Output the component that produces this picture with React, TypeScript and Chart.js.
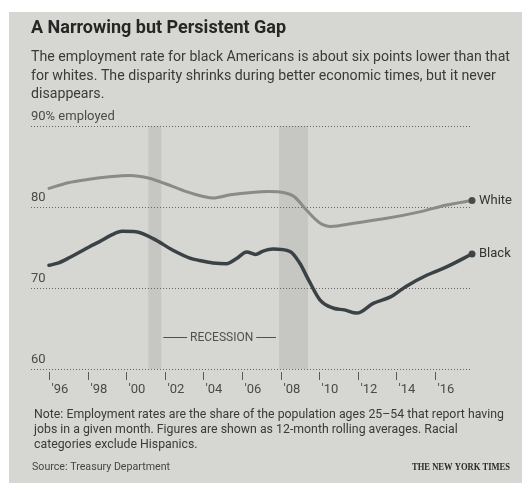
import React, { useEffect, useRef } from "react";
import { Chart, registerables } from "chart.js";

Chart.register(...registerables);

const TITLE = "A Narrowing but Persistent Gap";
const SUBTITLE_LINES = [
  "The employment rate for black Americans is about six points lower than that",
  "for whites. The disparity shrinks during better economic times, but it never",
  "disappears.",
];
const NOTE_LINES = [
  "Note: Employment rates are the share of the population ages 25–54 that report having",
  "jobs in a given month. Figures are shown as 12-month rolling averages. Racial",
  "categories exclude Hispanics.",
];
const SOURCE = "Source: Treasury Department";
const CREDIT = "THE NEW YORK TIMES";
const RECESSION_LABEL = "RECESSION";

const Y_TICKS = [60, 70, 80, 90];
const Y_TICK_LABELS = ["60", "70", "80", "90% employed"];
const X_TICKS = [1996, 1998, 2000, 2002, 2004, 2006, 2008, 2010, 2012, 2014, 2016];
const X_TICK_LABELS = ["'96", "'98", "'00", "'02", "'04", "'06", "'08", "'10", "'12", "'14", "'16"];

const RECESSION_START = [2001.15, 2007.92];
const RECESSION_END = [2001.82, 2009.42];

const WHITE_YEARS = [
  1996.0, 1997.0, 1998.0, 1999.0, 2000.2, 2001.2, 2002.0, 2003.0, 2004.0, 2004.5,
  2005.4, 2006.5, 2007.4, 2008.2, 2008.7, 2009.35, 2010.0, 2010.6, 2011.8, 2013.5,
  2015.2, 2016.6, 2017.92,
];
const WHITE_VALUES = [
  82.3, 83.0, 83.4, 83.7, 83.9, 83.55, 82.9, 82.0, 81.3, 81.1,
  81.5, 81.8, 81.9, 81.75, 81.3, 79.6, 78.1, 77.6, 78.0, 78.6,
  79.4, 80.25, 80.8,
];

const BLACK_YEARS = [
  1996.0, 1996.5, 1997.1, 1998.1, 1998.6, 1999.2, 1999.8, 2000.5, 2001.4, 2002.4,
  2003.3, 2003.8, 2004.5, 2005.2, 2005.7, 2006.25, 2006.7, 2007.1, 2007.6, 2008.5,
  2009.0, 2009.45, 2010.05, 2010.75, 2011.3, 2011.95, 2012.8, 2013.7, 2014.5, 2015.6,
  2016.6, 2017.92,
];
const BLACK_VALUES = [
  72.8, 73.1, 73.8, 75.1, 75.7, 76.5, 77.0, 76.95, 76.1, 74.7,
  73.7, 73.4, 73.1, 73.0, 73.6, 74.45, 74.15, 74.55, 74.8, 74.5,
  73.05, 71.0, 68.5, 67.5, 67.3, 66.9, 68.1, 68.9, 70.2, 71.6,
  72.6, 74.2,
];

const SERIES_NAMES = ["White", "Black"];

const W = 522;
const H = 485;
const PAPER = "#d6d6d2";
const BAND = "#c6c6c2";
const SANS = "Roboto, 'Liberation Sans', sans-serif";

function drawBlock(ctx: CanvasRenderingContext2D, lines: string[], x: number, baselines: number[], firstWidth: number) {
  const natural = ctx.measureText(lines[0]).width;
  const k = Math.min(1, firstWidth / natural);
  lines.forEach((l, i) => {
    const w = ctx.measureText(l).width * k;
    ctx.fillText(l, x, baselines[i], w);
  });
}

const decor = {
  id: "decor",
  beforeDraw(chart: any) {
    const { ctx, chartArea } = chart;
    const xs = chart.scales.x;
    const ys = chart.scales.y;
    ctx.save();
    ctx.fillStyle = "#ffffff";
    ctx.fillRect(0, 0, W, H);
    ctx.fillStyle = PAPER;
    ctx.fillRect(9, 12, W - 9, H - 14);

    // recession bands
    ctx.fillStyle = BAND;
    RECESSION_START.forEach((s, i) => {
      const x0 = xs.getPixelForValue(s);
      const x1 = xs.getPixelForValue(RECESSION_END[i]);
      ctx.fillRect(x0, chartArea.top, x1 - x0, chartArea.bottom - chartArea.top);
    });

    // grid lines
    ctx.strokeStyle = "#666664";
    ctx.lineWidth = 1;
    ctx.setLineDash([1, 2]);
    Y_TICKS.forEach((v) => {
      const py = Math.round(ys.getPixelForValue(v)) + 0.5;
      ctx.beginPath();
      ctx.moveTo(chartArea.left, py);
      ctx.lineTo(chartArea.right, py);
      ctx.stroke();
    });
    ctx.setLineDash([]);

    // y labels
    ctx.fillStyle = "#4a4a48";
    ctx.font = `13px ${SANS}`;
    ctx.textAlign = "left";
    ctx.textBaseline = "alphabetic";
    Y_TICKS.forEach((v, i) => {
      const py = ys.getPixelForValue(v);
      ctx.fillText(Y_TICK_LABELS[i], chartArea.left, py - 6);
    });

    // x ticks
    ctx.strokeStyle = "#5a5a58";
    X_TICKS.forEach((t, i) => {
      const px = Math.round(xs.getPixelForValue(t)) + 0.5;
      ctx.beginPath();
      ctx.moveTo(px, chartArea.bottom + 3);
      ctx.lineTo(px, chartArea.bottom + 11);
      ctx.stroke();
      ctx.fillText(X_TICK_LABELS[i], px + 2, chartArea.bottom + 24);
    });

    // recession label
    const ry = Math.round(ys.getPixelForValue(64)) + 0.5;
    const left = xs.getPixelForValue(RECESSION_END[0]) + 2;
    const right = xs.getPixelForValue(RECESSION_START[1]) - 3;
    ctx.font = `12px ${SANS}`;
    const tw = ctx.measureText(RECESSION_LABEL).width;
    const cx = (left + right) / 2 + 2;
    ctx.textAlign = "center";
    ctx.textBaseline = "middle";
    ctx.fillStyle = "#505050";
    ctx.fillText(RECESSION_LABEL, cx, ry);
    ctx.strokeStyle = "#505050";
    ctx.beginPath();
    ctx.moveTo(left, ry);
    ctx.lineTo(cx - tw / 2 - 3, ry);
    ctx.moveTo(cx + tw / 2 + 3, ry);
    ctx.lineTo(right, ry);
    ctx.stroke();

    // titles
    ctx.textAlign = "left";
    ctx.textBaseline = "alphabetic";
    ctx.fillStyle = "#262626";
    ctx.font = `bold 18px ${SANS}`;
    drawBlock(ctx, [TITLE], 31, [33], 304);
    ctx.fillStyle = "#3a3a3a";
    ctx.font = `15px ${SANS}`;
    drawBlock(ctx, SUBTITLE_LINES, 31, [61, 80, 98], 479);
    ctx.font = `13px ${SANS}`;
    drawBlock(ctx, NOTE_LINES, 34, [418, 433, 447.5], 470);
    ctx.fillStyle = "#454545";
    ctx.font = `11px ${SANS}`;
    drawBlock(ctx, [SOURCE], 32, [470], 138);
    ctx.fillStyle = "#2a2a2a";
    ctx.font = `bold 10px 'Liberation Serif', serif`;
    const cw = Math.min(98, ctx.measureText(CREDIT).width);
    ctx.fillText(CREDIT, 510 - cw, 470, cw);
    ctx.restore();
  },
  afterDatasetsDraw(chart: any) {
    const { ctx } = chart;
    ctx.save();
    ctx.font = `13px ${SANS}`;
    ctx.fillStyle = "#333333";
    ctx.textAlign = "left";
    ctx.textBaseline = "middle";
    chart.data.datasets.forEach((ds: any, i: number) => {
      const meta = chart.getDatasetMeta(i);
      const last = meta.data[meta.data.length - 1];
      ctx.fillText(SERIES_NAMES[i], last.x + 7, last.y);
    });
    ctx.restore();
  },
};

export default function App() {
  const ref = useRef<HTMLCanvasElement | null>(null);
  useEffect(() => {
    if (!ref.current) return;
    const mk = (years: number[], vals: number[]) => years.map((x, i) => ({ x, y: vals[i] }));
    const lastIdx = (n: number) => (c: any) => (c.dataIndex === n - 1 ? 3.5 : 0);
    const chart = new Chart(ref.current, {
      type: "line",
      data: {
        datasets: [
          {
            label: SERIES_NAMES[0],
            data: mk(WHITE_YEARS, WHITE_VALUES),
            borderColor: "#8a8a88",
            borderWidth: 3,
            pointRadius: lastIdx(WHITE_YEARS.length),
            pointBackgroundColor: "#4a4a4a",
            pointBorderWidth: 0,
            cubicInterpolationMode: "monotone",
            borderCapStyle: "round",
            borderJoinStyle: "round",
            clip: false,
          },
          {
            label: SERIES_NAMES[1],
            data: mk(BLACK_YEARS, BLACK_VALUES),
            borderColor: "#3a4245",
            borderWidth: 3.5,
            pointRadius: lastIdx(BLACK_YEARS.length),
            pointBackgroundColor: "#3f4345",
            pointBorderWidth: 0,
            cubicInterpolationMode: "monotone",
            borderCapStyle: "round",
            borderJoinStyle: "round",
            clip: false,
          },
        ],
      } as any,
      options: {
        responsive: false,
        animation: false,
        events: [],
        layout: { padding: { left: 31, top: 126, right: 50, bottom: 116 } },
        scales: {
          x: { type: "linear", min: 1995.07, max: 2017.92, display: false },
          y: { min: 60, max: 90, display: false },
        },
        plugins: { legend: { display: false }, tooltip: { enabled: false } },
      } as any,
      plugins: [decor],
    });
    return () => chart.destroy();
  }, []);
  return (
    <div style={{ position: "absolute", left: 0, top: 0, width: W, height: H }}>
      <canvas ref={ref} width={W} height={H} style={{ display: "block" }} />
    </div>
  );
}
